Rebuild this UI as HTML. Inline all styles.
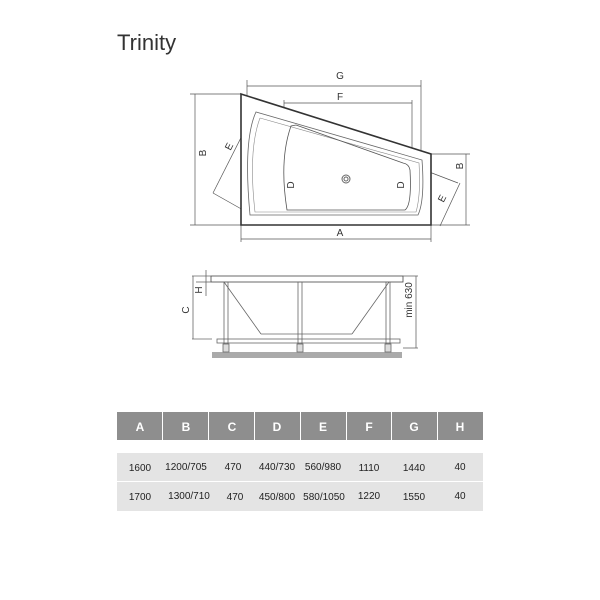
<!DOCTYPE html><html><head><style>body{margin:0;background:#fff;}svg{display:block}text{font-family:"Liberation Sans",sans-serif}</style></head><body>
<svg width="600" height="600" viewBox="0 0 600 600">
<text x="117" y="50" font-size="22" fill="#333">Trinity</text>
<g stroke="#555" stroke-width="0.7" fill="none">
<!-- dimension lines -->
<line x1="247" y1="86" x2="421" y2="86"/><line x1="247" y1="80" x2="247" y2="96"/><line x1="421" y1="80" x2="421" y2="154"/>
<line x1="284" y1="103" x2="412" y2="103"/><line x1="284" y1="100" x2="284" y2="125"/><line x1="412" y1="100" x2="412" y2="155"/>
<line x1="195" y1="94" x2="195" y2="225"/><line x1="190" y1="94" x2="241" y2="94"/><line x1="190" y1="225" x2="241" y2="225"/>
<line x1="466" y1="154" x2="466" y2="225"/><line x1="431" y1="154" x2="470" y2="154"/><line x1="431" y1="225" x2="470" y2="225"/>
<line x1="241" y1="239" x2="431" y2="239"/><line x1="241" y1="225" x2="241" y2="242"/><line x1="431" y1="225" x2="431" y2="242"/>
<line x1="284" y1="125" x2="284" y2="210"/><line x1="412" y1="163" x2="412" y2="206"/>
<line x1="213" y1="193" x2="257" y2="106"/><line x1="257" y1="106" x2="458" y2="183"/><line x1="440" y1="226" x2="460" y2="183"/>
<line x1="213" y1="193" x2="252" y2="215"/>
</g>
<!-- tub outline -->
<polygon points="241,94 431,154 431,225 241,225" fill="#fff" stroke="#333" stroke-width="1.6"/>
<path d="M256,112 Q243,140 250,215 L418,215 Q425,200 422,160 Z" fill="none" stroke="#666" stroke-width="0.8"/>
<path d="M260,118 Q248,150 255,212 L416,212 Q421,195 419,163 L260,118" fill="none" stroke="#888" stroke-width="0.6"/>
<path d="M291,126 Q279,160 287,210 L405,210 Q412,205 410,170 Q409,164 403,163 L296,125 Z" fill="none" stroke="#555" stroke-width="0.8"/>
<circle cx="346" cy="179" r="4" fill="none" stroke="#666"/><circle cx="346" cy="179" r="2" fill="none" stroke="#666"/>
<g font-size="10" fill="#333" text-anchor="middle">
<text x="340" y="79">G</text><text x="340" y="100">F</text><text x="340" y="236">A</text>
<text transform="translate(206,153) rotate(-90)">B</text>
<text transform="translate(463,166) rotate(-90)">B</text>
<text transform="translate(232,148) rotate(-63)">E</text>
<text transform="translate(445,200) rotate(-63)">E</text>
<text transform="translate(294,185) rotate(-90)">D</text>
<text transform="translate(404,185) rotate(-90)">D</text>
</g>
<!-- side view -->
<rect x="212" y="352" width="190" height="6" fill="#aaa"/>
<g stroke="#666" stroke-width="0.8" fill="none">
<rect x="211" y="276" width="192" height="6" fill="#fff" stroke="#444"/>
<line x1="224" y1="282" x2="261" y2="334"/><line x1="261" y1="334" x2="352" y2="334"/><line x1="352" y1="334" x2="389" y2="282"/>
<rect x="224" y="282" width="4" height="62"/><rect x="298" y="282" width="4" height="62"/><rect x="386" y="282" width="4" height="62"/>
<rect x="217" y="339" width="183" height="4"/>
<rect x="223" y="344" width="6" height="8" fill="#ddd"/><rect x="297" y="344" width="6" height="8" fill="#ddd"/><rect x="385" y="344" width="6" height="8" fill="#ddd"/>
<line x1="192" y1="276" x2="211" y2="276"/><line x1="192" y1="339" x2="212" y2="339"/><line x1="193" y1="276" x2="193" y2="339"/>
<line x1="206" y1="270" x2="206" y2="296"/><line x1="196" y1="282" x2="211" y2="282"/>
<line x1="403" y1="276" x2="418" y2="276"/><line x1="403" y1="348" x2="418" y2="348"/><line x1="416" y1="276" x2="416" y2="348"/>
</g>
<g font-size="10" fill="#333" text-anchor="middle">
<text transform="translate(189,310) rotate(-90)">C</text>
<text transform="translate(202,290) rotate(-90)">H</text>
<text transform="translate(412,300) rotate(-90)">min 630</text>
</g>
<!-- table -->
<g fill="#8e8e8e">
<rect x="117" y="412" width="45" height="28"/><rect x="163" y="412" width="45" height="28"/><rect x="209" y="412" width="45" height="28"/><rect x="255" y="412" width="45" height="28"/><rect x="301" y="412" width="45" height="28"/><rect x="347" y="412" width="44" height="28"/><rect x="392" y="412" width="45" height="28"/><rect x="438" y="412" width="45" height="28"/>
</g>
<g font-size="12" font-weight="bold" fill="#fff" text-anchor="middle">
<text x="140" y="431">A</text><text x="186" y="431">B</text><text x="232" y="431">C</text><text x="277" y="431">D</text><text x="323" y="431">E</text><text x="369" y="431">F</text><text x="414" y="431">G</text><text x="460" y="431">H</text>
</g>
<rect x="117" y="453" width="366" height="28" fill="#e4e4e4"/>
<rect x="117" y="482" width="366" height="29" fill="#e4e4e4"/>
<g font-size="10" fill="#222" text-anchor="middle">
<text x="140" y="471">1600</text><text x="186" y="470">1200/705</text><text x="233" y="470">470</text><text x="277" y="470">440/730</text><text x="323" y="470">560/980</text><text x="369" y="471">1110</text><text x="414" y="471">1440</text><text x="460" y="470">40</text>
<text x="140" y="500">1700</text><text x="189" y="499">1300/710</text><text x="235" y="500">470</text><text x="277" y="500">450/800</text><text x="324" y="500">580/1050</text><text x="369" y="499">1220</text><text x="414" y="500">1550</text><text x="460" y="499">40</text>
</g>
</svg></body></html>
